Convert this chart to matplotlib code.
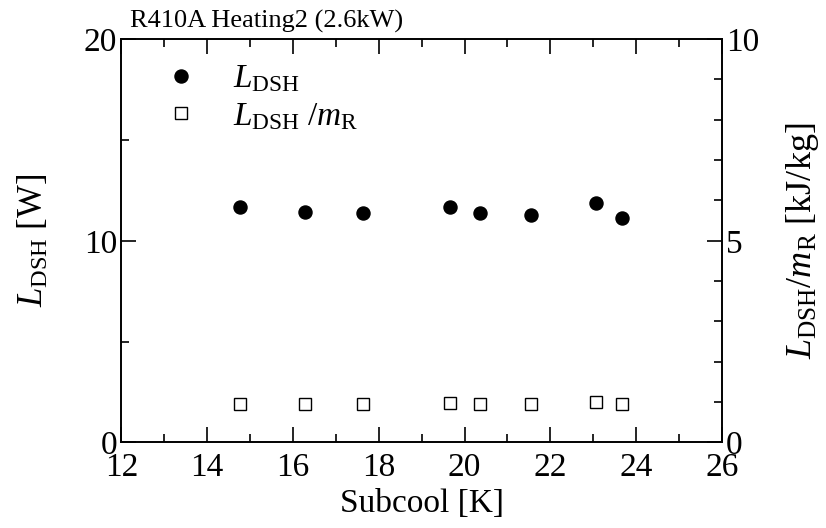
import matplotlib
matplotlib.use("Agg")
import matplotlib.pyplot as plt
from matplotlib.ticker import MultipleLocator

plt.rcParams['font.family'] = ['Liberation Serif', 'DejaVu Serif']
plt.rcParams['mathtext.fontset'] = 'custom'
plt.rcParams['mathtext.rm'] = 'Liberation Serif'
plt.rcParams['mathtext.it'] = 'Liberation Serif:italic'
plt.rcParams['axes.linewidth'] = 1.2

subcool = [14.76, 16.27, 17.63, 19.67, 20.37, 21.56, 23.07, 23.66]
l_dsh = [11.69, 11.41, 11.36, 11.68, 11.38, 11.27, 11.86, 11.13]
l_dsh_per_mr = [0.95, 0.95, 0.95, 0.97, 0.95, 0.95, 1.01, 0.95]

fig = plt.figure(figsize=(8.26, 5.28), dpi=100)
ax = fig.add_axes([0.147, 0.162, 0.727, 0.764])
ax2 = ax.twinx()

h1, = ax.plot(subcool, l_dsh, 'o', color='black', markersize=9.4, linestyle='none',
              label=r'$L_{\rm DSH}$')
h2, = ax2.plot(subcool, l_dsh_per_mr, 's', markerfacecolor='white', markeredgecolor='black',
               markeredgewidth=1.0, markersize=8.6, linestyle='none',
               label=r'$L_{\rm DSH}\ /m_{\rm R}$')

ax.set_xlim(12, 26)
ax.set_ylim(0, 20)
ax2.set_ylim(0, 10)

ax.xaxis.set_major_locator(MultipleLocator(2))
ax.xaxis.set_minor_locator(MultipleLocator(1))
ax.yaxis.set_major_locator(MultipleLocator(10))
ax.yaxis.set_minor_locator(MultipleLocator(5))
ax2.yaxis.set_major_locator(MultipleLocator(5))
ax2.yaxis.set_minor_locator(MultipleLocator(1))

ax.tick_params(axis='x', which='both', direction='in', top=True, bottom=True,
               labelsize=24, pad=7, width=1.2)
ax.tick_params(axis='y', which='both', direction='in', left=True, right=False,
               labelsize=24, pad=3, width=1.2)
ax.tick_params(which='major', length=11)
ax.tick_params(which='minor', length=5.5)
ax2.tick_params(axis='y', which='both', direction='in', right=True,
                labelsize=24, pad=3, width=1.2)
ax2.tick_params(which='major', length=11)
ax2.tick_params(which='minor', length=5.5)

ax.set_xlabel('Subcool [K]', fontsize=24, labelpad=4)
ax.set_ylabel(r'$L_{\rm DSH}$ [W]', fontsize=25, labelpad=24)
ax2.set_ylabel(r'$L_{\rm DSH}/m_{\rm R}$ [kJ/kg]', fontsize=26, labelpad=18)

fig.text(0.157, 0.960, 'R410A Heating2 (2.6kW)', fontsize=19, ha='left', va='center')

ax.legend([h1, h2], [h1.get_label(), h2.get_label()], loc='upper left',
          bbox_to_anchor=(0.049, 0.972), frameon=False, fontsize=24,
          handlelength=1.0, handletextpad=1.05, labelspacing=0.2,
          borderaxespad=0.0)

fig.savefig('out.png', dpi=100)
